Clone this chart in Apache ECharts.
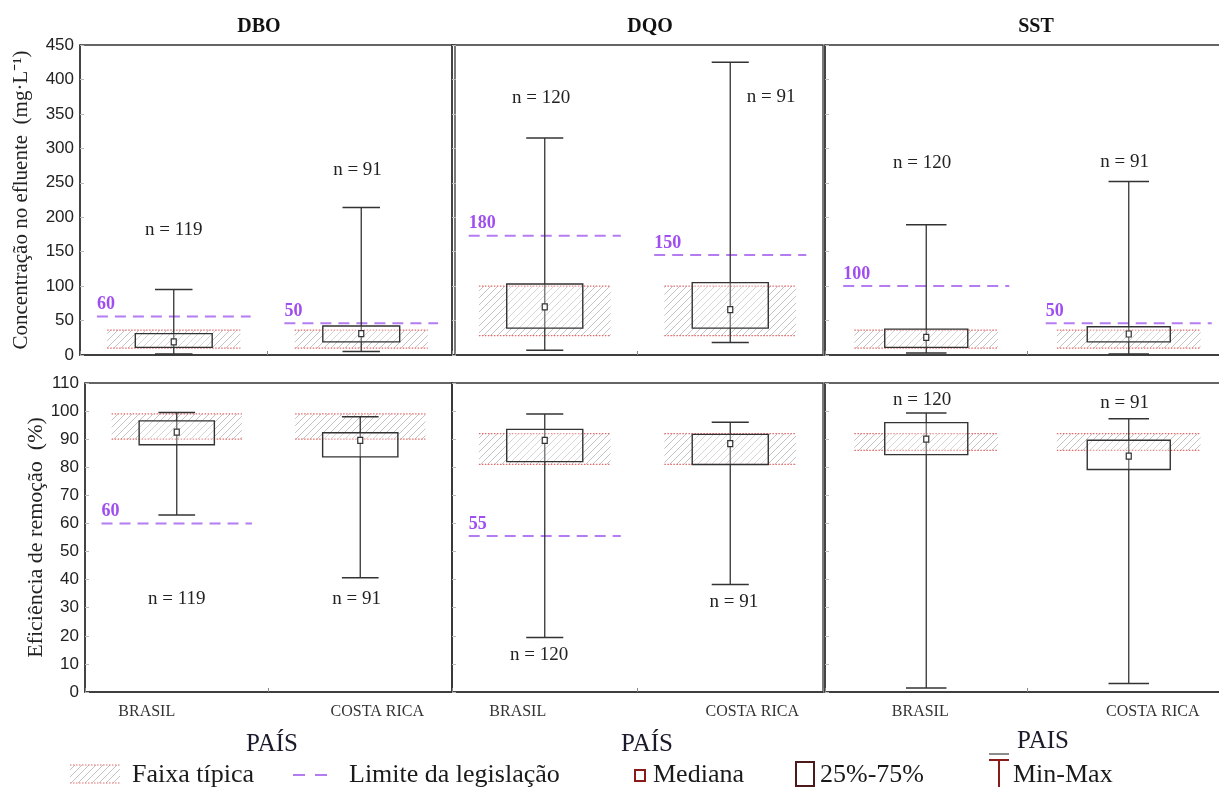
<!DOCTYPE html>
<html><head><meta charset="utf-8">
<script src="https://cdn.jsdelivr.net/npm/echarts@6/dist/echarts.min.js"></script>
<style>html,body{margin:0;padding:0;background:#fff}#c{width:1219px;height:787px}</style>
</head><body><div id="c"></div>
<script>
// ---------------- DATA ----------------
const categories = ['BRASIL', 'COSTA RICA'];
const parameters = ['DBO', 'DQO', 'SST'];
// [min, Q1, median, Q3, max] for BRASIL and COSTA RICA
const concDBO = [[1.5, 11, 19, 31, 95], [5, 19, 31, 42, 214]];
const concDQO = [[7, 39, 70, 103, 315], [18, 39, 66, 105, 425]];
const concSST = [[3, 11, 25.5, 37.5, 189], [1.5, 19, 30.5, 41, 252]];
const effDBO = [[63, 88, 92.5, 96.5, 99.5], [40.7, 83.7, 89.6, 92.3, 98]];
const effDQO = [[19.4, 82, 89.6, 93.5, 99], [38.3, 81, 88.4, 91.7, 96]];
const effSST = [[1.4, 84.5, 90, 95.9, 99.3], [3, 79.2, 84, 89.6, 97.3]];
// typical range [low, high] for DBO, DQO, SST
const typicalConc = [[10, 36], [28, 100], [10, 36]];
const typicalEff = [[90, 99], [81, 92], [86, 92]];
// legislation limits (value as drawn, printed label) per parameter x country
const limitConc = [[56, 46], [173, 145], [100, 46]];
const limitConcText = [['60', '50'], ['180', '150'], ['100', '50']];
const limitEff = [[60, null], [55.5, null], [null, null]];
const limitEffText = [['60', null], ['55', null], [null, null]];
// sample sizes
const nConc = [[119, 91], [120, 91], [120, 91]];
const nEff = [[119, 91], [120, 91], [120, 91]];
// y-axis tick labels
const concTicks = [0, 50, 100, 150, 200, 250, 300, 350, 400, 450];
const effTicks = [0, 10, 20, 30, 40, 50, 60, 70, 80, 90, 100, 110];
// text labels
const yNameConc = 'Concentração no efluente  (mg·L⁻¹)';
const yNameEff = 'Eficiência de remoção  (%)';
const xAxisTitles = ['PAÍS', 'PAÍS', 'PAIS'];
const legendTexts = ['Faixa típica', 'Limite da legislação', 'Mediana', '25%-75%', 'Min-Max'];

// ---------------- LAYOUT (annotation anchors, data units) ----------------
const nLabelYConc = [[181, 269], [373, 375], [279, 280]];
const nLabelYEff = [[33, 33], [13, 32], [104, 103]];
const nLabelDxConc = [[0, -0.02], [-0.02, 0.22], [-0.02, -0.02]];
const nLabelDxEff = [[0, -0.02], [-0.03, 0.02], [-0.02, -0.02]];

const SERIF = '"Liberation Serif","Times New Roman",serif';
const SANS = '"Liberation Sans",Arial,sans-serif';

// hatch pattern
const pc = document.createElement('canvas');
pc.width = 7; pc.height = 7;
const g = pc.getContext('2d');
g.strokeStyle = '#c4c4c4'; g.lineWidth = 1;
g.beginPath();
g.moveTo(0, 7); g.lineTo(7, 0);
g.moveTo(-1, 1); g.lineTo(1, -1);
g.moveTo(6, 8); g.lineTo(8, 6);
g.stroke();
const hatch = { image: pc, repeat: 'repeat' };

const RED = '#e36a6a';
const PURPLE_LINE = '#b57cf2';
const PURPLE_TEXT = '#a04ef0';
const DARK = '#333';

function makeRender(stats, band, limits, limitTexts, nVals, nY, nDx) {
  return function (params, api) {
    const i = params.dataIndex;
    const s = stats[i];
    const bw = api.size([1, 0])[0];
    const cx = api.coord([i, 0])[0];
    const y = v => api.coord([i, v])[1];
    const ch = [];
    // typical band
    const bl = cx - 0.355 * bw, br = cx + 0.355 * bw;
    const yt = y(band[1]), yb = y(band[0]);
    ch.push({ type: 'rect', shape: { x: bl, y: yt, width: br - bl, height: yb - yt }, style: { fill: hatch } });
    [yt, yb].forEach(yy => ch.push({ type: 'line', shape: { x1: bl, y1: yy, x2: br, y2: yy },
      style: { stroke: RED, lineWidth: 1.3, lineDash: [1.5, 1.5] } }));
    // limit line
    if (limits[i] != null) {
      const ly = y(limits[i]);
      const lx1 = cx - 0.41 * bw, lx2 = cx + 0.41 * bw;
      ch.push({ type: 'line', shape: { x1: lx1, y1: ly, x2: lx2, y2: ly },
        style: { stroke: PURPLE_LINE, lineWidth: 2, lineDash: [11, 7] } });
      ch.push({ type: 'text', x: lx1, y: ly - 3, style: { text: limitTexts[i], font: 'bold 18px ' + SERIF,
        fill: PURPLE_TEXT, textAlign: 'left', textVerticalAlign: 'bottom' } });
    }
    // whisker
    const capW = 0.1 * bw;
    ch.push({ type: 'line', shape: { x1: cx, y1: y(s[0]), x2: cx, y2: y(s[4]) }, style: { stroke: DARK, lineWidth: 1.3 } });
    [s[0], s[4]].forEach(v => ch.push({ type: 'line', shape: { x1: cx - capW, y1: y(v), x2: cx + capW, y2: y(v) },
      style: { stroke: DARK, lineWidth: 1.5 } }));
    // box
    const boxW = 0.205 * bw;
    const bq3 = y(s[3]), bq1 = y(s[1]);
    ch.push({ type: 'rect', shape: { x: cx - boxW, y: bq3, width: 2 * boxW, height: bq1 - bq3 },
      style: { fill: 'rgba(255,255,255,0.3)', stroke: DARK, lineWidth: 1.4 } });
    // median marker
    const my = y(s[2]);
    ch.push({ type: 'rect', shape: { x: cx - 2.5, y: my - 3, width: 5, height: 6 },
      style: { fill: '#fff', stroke: DARK, lineWidth: 1.2 } });
    // n label
    ch.push({ type: 'text', x: cx + nDx[i] * bw, y: y(nY[i]), style: { text: 'n = ' + nVals[i], font: '19px ' + SERIF,
      fill: '#222', textAlign: 'center', textVerticalAlign: 'middle' } });
    return { type: 'group', children: ch };
  };
}

const cols = [
  { top: { left: 80, width: 375 }, bot: { left: 85, width: 367 } },
  { top: { left: 452, width: 371 }, bot: { left: 452, width: 371 } },
  { top: { left: 825, width: 405 }, bot: { left: 825, width: 405 } }
];
const concStats = [concDBO, concDQO, concSST];
const effStats = [effDBO, effDQO, effSST];
// label shifts (px, via padding) for BRASIL / COSTA RICA per column
const labelShift = [[-30, 17], [-27, 22], [-6, 24]];

const grids = [], xAxes = [], yAxes = [], series = [];
for (let row = 0; row < 2; row++) {
  for (let c = 0; c < 3; c++) {
    const idx = row * 3 + c;
    const geo = row === 0 ? cols[c].top : cols[c].bot;
    grids.push({ left: geo.left, width: geo.width, top: row === 0 ? 45 : 383, height: row === 0 ? 310 : 309,
      outerBoundsMode: 'none', containLabel: false,
      show: true, borderColor: '#333', borderWidth: 1.3, backgroundColor: 'transparent' });
    const sh = labelShift[c];
    xAxes.push({
      gridIndex: idx, type: 'category', data: categories, boundaryGap: true,
      axisLine: { lineStyle: { color: '#333', width: 1.5 } },
      axisTick: { show: true, inside: true, length: 4, lineStyle: { color: '#888' } },
      axisLabel: row === 0 ? { show: false } : {
        show: true, margin: 12, color: '#333',
        formatter: (v, k) => k === 0 ? '{a|' + v + '}' : '{b|' + v + '}',
        rich: {
          a: { fontFamily: SERIF, fontSize: 16, color: '#333', padding: [0, -2 * sh[0], 0, 0] },
          b: { fontFamily: SERIF, fontSize: 16, color: '#333', padding: [0, 0, 0, 2 * sh[1]] }
        }
      }
    });
    const ticks = row === 0 ? concTicks : effTicks;
    const y = {
      gridIndex: idx, type: 'value', min: ticks[0], max: ticks[ticks.length - 1], interval: ticks[1] - ticks[0],
      splitLine: { show: false },
      axisLine: { show: true, lineStyle: { color: '#333', width: 1.5 } },
      axisTick: { show: true, inside: true, length: 4, lineStyle: { color: '#bbb' } },
      axisLabel: { show: c === 0, fontFamily: SANS, fontSize: 17, color: '#222', margin: 6 }
    };
    if (c === 0) {
      y.name = row === 0 ? yNameConc : yNameEff;
      y.nameLocation = 'middle';
      y.nameGap = row === 0 ? 48 : 38;
      y.nameTextStyle = { fontFamily: SERIF, fontSize: row === 0 ? 21 : 22, color: '#222' };
    }
    yAxes.push(y);
    const stats = row === 0 ? concStats[c] : effStats[c];
    series.push({
      type: 'custom', xAxisIndex: idx, yAxisIndex: idx, clip: false,
      data: categories.map((cat, i) => [i].concat(stats[i])),
      encode: { x: 0, y: [1, 2, 3, 4, 5] },
      renderItem: row === 0
        ? makeRender(stats, typicalConc[c], limitConc[c], limitConcText[c], nConc[c], nLabelYConc[c], nLabelDxConc[c])
        : makeRender(stats, typicalEff[c], limitEff[c], limitEffText[c], nEff[c], nLabelYEff[c], nLabelDxEff[c])
    });
  }
}

const titleX = [259, 650, 1036];
const paisX = [272, 647, 1043];
const LEG_FONT = '26px ' + SERIF;
const LEG_Y = 775;
const graphic = [];
parameters.forEach((p, k) => graphic.push({ type: 'text', x: titleX[k], y: 27,
  style: { text: p, font: 'bold 20px ' + SERIF, fill: '#111', textAlign: 'center', textVerticalAlign: 'middle' } }));
xAxisTitles.forEach((t, k) => graphic.push({ type: 'text', x: paisX[k], y: k === 2 ? 741 : 744,
  style: { text: t, font: '25px ' + SERIF, fill: '#1a1a2a', textAlign: 'center', textVerticalAlign: 'middle' } }));
// legend: typical band
graphic.push({ type: 'rect', shape: { x: 70, y: 765, width: 50, height: 18 }, style: { fill: hatch } });
[765, 783].forEach(yy => graphic.push({ type: 'line', shape: { x1: 70, y1: yy, x2: 120, y2: yy },
  style: { stroke: RED, lineWidth: 1.2, lineDash: [1.5, 1.5] } }));
graphic.push({ type: 'text', x: 132, y: LEG_Y, style: { text: legendTexts[0], font: LEG_FONT, fill: '#1a1a1a', textVerticalAlign: 'middle' } });
// legend: limit
graphic.push({ type: 'line', shape: { x1: 293, y1: LEG_Y, x2: 327, y2: LEG_Y },
  style: { stroke: PURPLE_LINE, lineWidth: 2, lineDash: [12, 10] } });
graphic.push({ type: 'text', x: 349, y: LEG_Y, style: { text: legendTexts[1], font: LEG_FONT, fill: '#1a1a1a', textVerticalAlign: 'middle' } });
// legend: median
graphic.push({ type: 'rect', shape: { x: 635, y: 770, width: 10, height: 11 }, style: { fill: '#fff', stroke: '#8b1a1a', lineWidth: 2 } });
graphic.push({ type: 'text', x: 653, y: LEG_Y, style: { text: legendTexts[2], font: LEG_FONT, fill: '#1a1a1a', textVerticalAlign: 'middle' } });
// legend: 25-75
graphic.push({ type: 'rect', shape: { x: 796, y: 762, width: 18, height: 24 }, style: { fill: '#fff', stroke: '#4a1a1a', lineWidth: 2 } });
graphic.push({ type: 'text', x: 820, y: LEG_Y, style: { text: legendTexts[3], font: LEG_FONT, fill: '#1a1a1a', textVerticalAlign: 'middle' } });
// legend: min-max
graphic.push({ type: 'line', shape: { x1: 989, y1: 754, x2: 1009, y2: 754 }, style: { stroke: '#666', lineWidth: 1.5 } });
graphic.push({ type: 'line', shape: { x1: 989, y1: 760, x2: 1009, y2: 760 }, style: { stroke: '#8b1a1a', lineWidth: 2 } });
graphic.push({ type: 'line', shape: { x1: 999, y1: 760, x2: 999, y2: 787 }, style: { stroke: '#8b1a1a', lineWidth: 2 } });
graphic.push({ type: 'text', x: 1013, y: LEG_Y, style: { text: legendTexts[4], font: LEG_FONT, fill: '#1a1a1a', textVerticalAlign: 'middle' } });

const chart = echarts.init(document.getElementById('c'), null, { renderer: 'canvas' });
chart.setOption({
  animation: false,
  backgroundColor: '#fff',
  grid: grids, xAxis: xAxes, yAxis: yAxes, series: series,
  graphic: graphic
});
</script>
</body></html>
